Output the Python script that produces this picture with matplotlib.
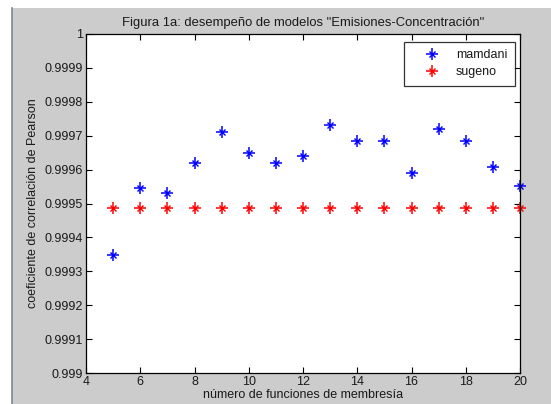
import matplotlib
matplotlib.use('Agg')
import matplotlib.pyplot as plt
from matplotlib.patches import Rectangle
from matplotlib.lines import Line2D
from matplotlib.legend_handler import HandlerTuple

plt.rcParams['font.family'] = ['Liberation Sans', 'DejaVu Sans']

# datos
n_funciones = [5, 6, 7, 8, 9, 10, 11, 12, 13, 14, 15, 16, 17, 18, 19, 20]
mamdani = [0.999347, 0.999547, 0.999530, 0.999620, 0.999710, 0.999648, 0.999620, 0.999639,
           0.999733, 0.999683, 0.999683, 0.999591, 0.999721, 0.999685, 0.999609, 0.999553]
sugeno = [0.999488] * 16
y_ticks = [0.999, 0.9991, 0.9992, 0.9993, 0.9994, 0.9995, 0.9996, 0.9997, 0.9998, 0.9999, 1]
y_labels = ['0.999', '0.9991', '0.9992', '0.9993', '0.9994', '0.9995',
            '0.9996', '0.9997', '0.9998', '0.9999', '1']

W, H = 551, 404
fig = plt.figure(figsize=(W / 100, H / 100), dpi=100)
fig.patch.set_facecolor('white')
# fondo gris estilo MATLAB
fig.patches.append(Rectangle((12 / W, 0), 1, 1 - 8 / H, transform=fig.transFigure,
                             facecolor='#cccccc', edgecolor='none', zorder=-10))
fig.lines.append(Line2D([11.5 / W, 11.5 / W], [0, 1 - 8 / H], transform=fig.transFigure,
                        color='#7a8a9a', lw=1.2))

ax = fig.add_axes([86 / W, 31 / H, 434 / W, 339 / H])
ax.set_facecolor('white')

txt = '#1a1a1a'


def asterisco(x, y, color):
    # asterisco tipo MATLAB: cruz grande + aspa pequeña
    a, = ax.plot(x, y, linestyle='none', marker='+', markersize=8, markeredgewidth=1.1,
                 color=color, clip_on=False)
    b, = ax.plot(x, y, linestyle='none', marker='x', markersize=4, markeredgewidth=1.0,
                 color=color, clip_on=False)
    return a, b


h_mam = asterisco(n_funciones, mamdani, '#0000ff')
h_sug = asterisco(n_funciones, sugeno, '#ff0000')

ax.set_xlim(4, 20)
ax.set_ylim(0.999, 1)
ax.set_xticks(range(4, 21, 2))
ax.set_yticks(y_ticks)
ax.set_yticklabels(y_labels)
ax.tick_params(direction='in', top=True, right=True, length=4, width=0.8,
               labelsize=9, colors='black', labelcolor=txt, pad=2)
for s in ax.spines.values():
    s.set_linewidth(0.9)

ax.set_title('Figura 1a: desempeño de modelos "Emisiones-Concentración"',
             fontsize=9.4, color=txt, pad=6)
ax.set_xlabel('número de funciones de membresía', fontsize=9, color=txt, labelpad=1)
ax.set_ylabel('coeficiente de correlación de Pearson', fontsize=9, color=txt, labelpad=4)

leg = ax.legend([h_mam, h_sug], ['mamdani', 'sugeno'],
                handler_map={tuple: HandlerTuple(ndivide=1)},
                loc='upper right', bbox_to_anchor=(515 / W, 1 - 42 / H),
                bbox_transform=fig.transFigure, borderaxespad=0,
                fontsize=9, frameon=True, fancybox=False, borderpad=0.6,
                handlelength=3.4, handletextpad=0.2, labelspacing=0.4)
leg.get_frame().set_edgecolor('black')
leg.get_frame().set_linewidth(0.9)
for t in leg.get_texts():
    t.set_color(txt)

fig.savefig('out.png', dpi=100)
